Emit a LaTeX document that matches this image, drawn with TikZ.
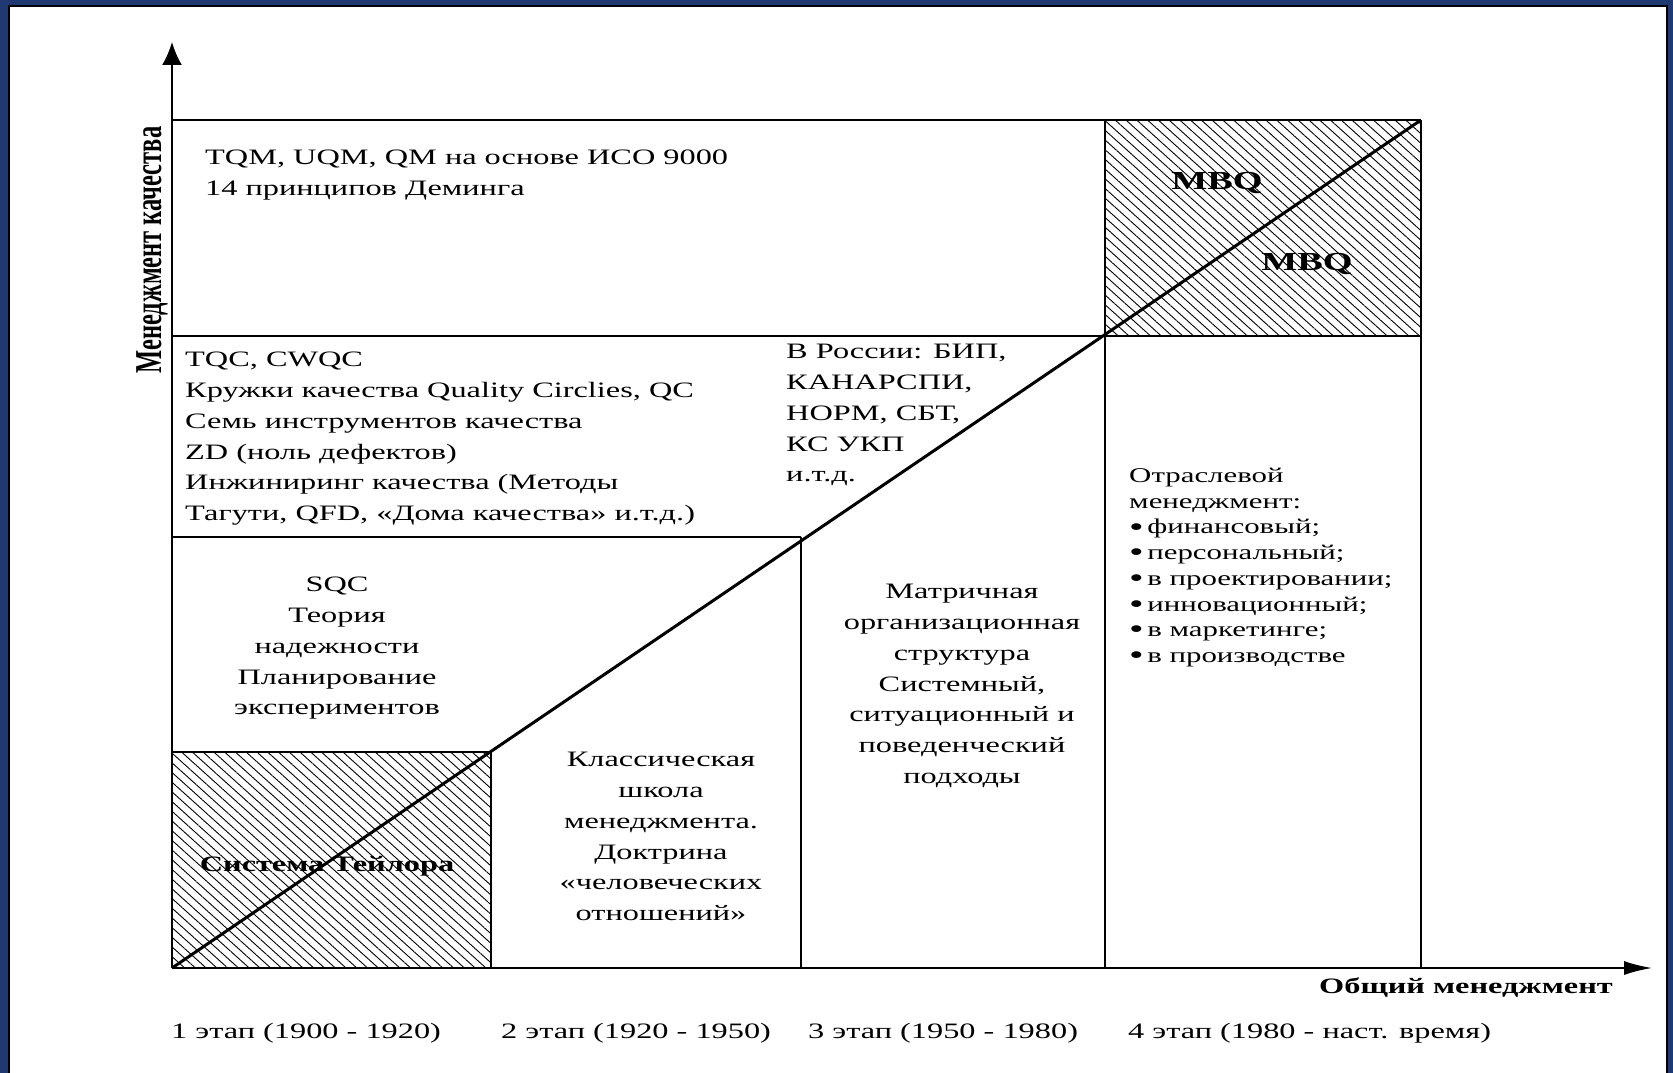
\documentclass[tikz,border=0pt]{standalone}
\usepackage{fontspec}
\setmainfont{Liberation Serif}[FakeStretch=1.47]
\newfontfamily\ylabfont{Liberation Serif}
\usetikzlibrary{patterns.meta,arrows.meta}
\definecolor{frameblue}{RGB}{31,58,115}
\newcommand{\bigbul}{\raisebox{-0.1em}{\scalebox{1.35}{\textbullet}}}
\begin{document}
\begin{tikzpicture}[x=1pt,y=-1pt,
  gridline/.style={line width=1.6pt},
  axisline/.style={line width=1.8pt},
  hatch/.style={pattern={Lines[angle=-42,distance=7.2pt,line width=0.9pt]}},
  txt/.style={font=\fontsize{22}{30.8}\selectfont, inner sep=0pt},
  txtsmall/.style={font=\fontsize{21}{25.7}\selectfont, inner sep=0pt},
  boldlab/.style={font=\bfseries\fontsize{22}{26}\selectfont, inner sep=0pt},
  mbqlab/.style={font=\bfseries\fontsize{26}{30}\selectfont, inner sep=0pt}]
\useasboundingbox (0,0) rectangle (1673,1073);
% frame
\fill[frameblue] (0,0) rectangle (1673,1073);
\fill[white] (10,7) rectangle (1666,1090);
\draw[line width=2pt] (9,6) rectangle (1667,1095);
% key points
\coordinate (O) at (172,968);
\coordinate (ytip) at (172,42);
\coordinate (xtip) at (1652,968);
\coordinate (D) at (1421,120);
% hatched cells
\fill[hatch] (172,752) rectangle (491,968);
\fill[hatch] (1105,120) rectangle (1421,336);
% grid
\draw[gridline] (172,120) -- (1421,120);
\draw[gridline] (172,336) -- (1421,336);
\draw[gridline] (172,537) -- (801,537);
\draw[gridline] (172,752) -- (491,752);
\draw[gridline] (491,752) -- (491,968);
\draw[gridline] (801,537) -- (801,968);
\draw[gridline] (1105,120) -- (1105,968);
\draw[gridline] (1421,120) -- (1421,968);
% diagonal
\draw[line width=3pt] (O) -- (D);
% axes
\draw[axisline, -{Latex[length=23pt,width=20pt]}] (O) -- (ytip);
\draw[axisline, -{Latex[length=28pt,width=14pt]}] (O) -- (xtip);
% texts
\node[txt, anchor=north west, align=left] (t1) at (205,150)
  {TQM, UQM, QM на основе ИСО 9000\\14 принципов Деминга};
\node[txt, anchor=north west, align=left] (t2) at (185,352)
  {TQC, CWQC\\Кружки качества Quality Circlies, QC\\Семь инструментов качества\\ZD (ноль дефектов)\\Инжиниринг качества (Методы\\Тагути, QFD, «Дома качества» и.т.д.)};
\node[txt, anchor=north west, align=left] (t3) at (786,344)
  {В России: БИП,\\КАНАРСПИ,\\НОРМ, СБТ,\\КС УКП\\и.т.д.};
\node[txt, anchor=north, align=center] (t4) at (337,577)
  {SQC\\Теория\\надежности\\Планирование\\экспериментов};
\node[txt, anchor=north, align=center] (t5) at (661,752)
  {Классическая\\школа\\менеджмента.\\Доктрина\\«человеческих\\отношений»};
\node[txt, anchor=north, align=center] (t6) at (962,584)
  {Матричная\\организационная\\структура\\Системный,\\ситуационный и\\поведенческий\\подходы};
\node[txtsmall, anchor=north west, align=left] (t7) at (1129,468)
  {Отраслевой\\менеджмент:\\\bigbul\,финансовый;\\\bigbul\,персональный;\\\bigbul\,в проектировании;\\\bigbul\,инновационный;\\\bigbul\,в маркетинге;\\\bigbul\,в производстве};
\node[mbqlab, anchor=base] (mbq1) at (1217,189) {MBQ};
\node[mbqlab, anchor=base] (mbq2) at (1307,270) {MBQ};
\node[boldlab, anchor=base] (taylor) at (327,871) {Система Тейлора};
\node[rotate=90, anchor=base, inner sep=0pt] (ylab) at (161,250)
  {\scalebox{1}[1.55]{\ylabfont\bfseries\fontsize{24.5}{28}\selectfont Менеджмент качества}};
\node[boldlab, anchor=base] (xlab) at (1466,993) {Общий менеджмент};
\node[txt, anchor=base west] (s1) at (171,1038) {1 этап (1900 - 1920)};
\node[txt, anchor=base west] (s2) at (501,1038) {2 этап (1920 - 1950)};
\node[txt, anchor=base west] (s3) at (808,1038) {3 этап (1950 - 1980)};
\node[txt, anchor=base west] (s4) at (1128,1038) {4 этап (1980 - наст. время)};
\end{tikzpicture}
\end{document}
